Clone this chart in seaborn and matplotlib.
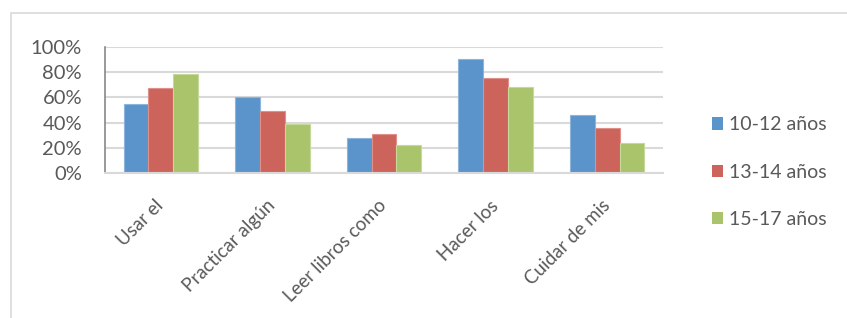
import matplotlib
matplotlib.use("Agg")
import matplotlib.pyplot as plt
from matplotlib.patches import Rectangle, Patch
from matplotlib.ticker import PercentFormatter
import matplotlib.transforms as mtransforms
import numpy as np
import pandas as pd
import seaborn as sns

categories = ["Usar el", "Practicar algún", "Leer libros como", "Hacer los", "Cuidar de mis"]
groups = ["10-12 años", "13-14 años", "15-17 años"]
vals_10_12 = [0.55, 0.605, 0.275, 0.90, 0.46]
vals_13_14 = [0.67, 0.49, 0.31, 0.755, 0.36]
vals_15_17 = [0.785, 0.39, 0.225, 0.68, 0.24]
colors = ["#5B94CA", "#CC645C", "#A9C46A"]
edges = ["#8CB4DD", "#E0908A", "#C6D99A"]

df = pd.DataFrame({
    "cat": categories * 3,
    "grupo": [g for g in groups for _ in categories],
    "valor": vals_10_12 + vals_13_14 + vals_15_17,
})

sns.set_theme(style="white")
plt.rcParams["font.family"] = ["Lato", "DejaVu Sans"]
txt = "#595959"

fig = plt.figure(figsize=(8.47, 3.18), dpi=100)
ax = fig.add_axes([105 / 847, 1 - 173.3 / 318, 558 / 847, 126.6 / 318])

sns.barplot(data=df, x="cat", y="valor", hue="grupo", palette=colors,
            width=0.665, gap=0, ax=ax, legend=False, saturation=1)

# lighter outline on each bar, like the original
for i, bars in enumerate(ax.containers):
    for b in bars:
        b.set_edgecolor(edges[i])
        b.set_linewidth(0.8)

ax.set_ylim(0, 1)
ax.set_xlim(-0.5, 4.5)
ax.set_yticks(np.arange(0, 1.01, 0.2))
ax.yaxis.set_major_formatter(PercentFormatter(1.0, decimals=0))
ax.yaxis.grid(True, color="#D9D9D9", lw=1.5)
ax.set_axisbelow(True)
ax.set_xlabel("")
ax.set_ylabel("")
for s in ["top", "right"]:
    ax.spines[s].set_visible(False)
ax.spines["left"].set_color("#888888")
ax.spines["left"].set_linewidth(1.2)
ax.spines["bottom"].set_color("#D9D9D9")
ax.spines["bottom"].set_linewidth(1.5)

ax.tick_params(axis="y", length=0, pad=16.5, labelsize=14.5, labelcolor=txt)
ax.tick_params(axis="x", length=0, pad=17, labelsize=13.5, labelcolor=txt)
off = mtransforms.ScaledTranslation(6 / 100, 0, fig.dpi_scale_trans)
for lab in ax.get_xticklabels():
    lab.set_rotation(45)
    lab.set_ha("right")
    lab.set_va("top")
    lab.set_transform(lab.get_transform() + off)

handles = [Patch(facecolor=c, edgecolor="none") for c in colors]
fig.legend(handles, groups, loc="center left", bbox_to_anchor=(712 / 847, 1 - 172 / 318),
           frameon=False, fontsize=14, labelcolor=txt, handlelength=0.58,
           handleheight=0.58, handletextpad=0.3, labelspacing=1.55,
           borderpad=0, borderaxespad=0)

# chart area frame (left and top edges visible)
fig.add_artist(Rectangle((10.5 / 847, -0.2), 1.2, 1.2 - 12.5 / 318,
                         transform=fig.transFigure, fill=False,
                         edgecolor="#D9D9D9", lw=1.2))

fig.savefig("out.png", dpi=100)
